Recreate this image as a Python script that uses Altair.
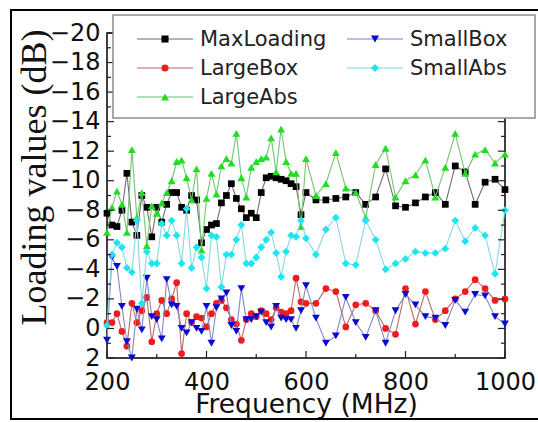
import altair as alt
import pandas as pd

# ---------------- data ----------------
freq = [200, 210, 220, 230, 240, 250, 260, 270, 280, 290,
        300, 310, 320, 330, 340, 350, 360, 370, 380, 390,
        400, 410, 420, 430, 440, 450, 460, 470, 480, 490,
        500, 510, 520, 530, 540, 550, 560, 570, 580, 590,
        600, 620, 640, 660, 680, 700, 720, 740, 760, 780,
        800, 820, 840, 860, 880, 900, 920, 940, 960, 980, 1000]

max_loading = [-7.8, -7.0, -6.9, -8.0, -10.5, -7.2, -6.3, -9.0, -8.2, -6.2,
               -8.2, -7.2, -8.4, -9.2, -9.2, -8.2, -8.0, -9.0, -8.7, -5.8,
               -6.7, -7.0, -7.1, -8.5, -9.0, -9.8, -8.8, -8.1, -7.5, -7.8,
               -7.5, -9.2, -10.2, -10.3, -10.2, -10.1, -10.0, -9.8, -9.6, -7.7,
               -9.2, -8.7, -8.7, -8.8, -8.9, -9.2, -8.4, -8.9, -10.8, -8.3,
               -8.2, -8.5, -8.9, -9.2, -8.4, -11.0, -10.6, -8.4, -9.9, -10.1, -9.4]

large_box = [-0.4, -0.4, -1.0, 0.2, 1.2, -1.7, -0.4, -1.2, -2.1, 0.9,
             -1.0, -1.9, -1.0, -2.0, -3.1, 1.7, -1.0, -0.4, -0.8, -0.7,
             -0.1, -1.0, -1.7, -1.9, -1.4, -0.6, -0.3, 0.8, -0.6, -1.0,
             -0.8, -1.2, -1.0, -0.6, -1.4, -1.1, -1.0, -1.2, -3.4, -1.8,
             -1.7, -1.7, -2.7, -2.5, -0.1, -1.6, -1.7, -1.2, 0.0, 0.4,
             -2.7, -0.3, -2.5, -0.6, -1.2, -2.0, -2.5, -3.3, -2.7, -1.9, -2.0]

large_abs = [-6.5, -8.2, -9.3, -8.4, -6.5, -12.1, -7.5, -9.2, -5.6, -8.3,
             -7.8, -8.5, -9.2, -10.0, -11.3, -11.4, -10.2, -8.7, -10.8, -5.3,
             -8.8, -10.5, -9.1, -11.0, -11.5, -11.2, -13.2, -10.2, -8.9, -10.9,
             -11.3, -11.5, -11.6, -12.9, -10.6, -13.5, -11.3, -10.5, -10.5, -6.9,
             -11.5, -9.0, -9.8, -11.9, -9.5, -9.2, -7.5, -11.1, -12.2, -8.9,
             -10.0, -10.4, -11.4, -8.9, -10.9, -13.2, -10.5, -11.8, -12.1, -11.2, -11.8]

small_box = [0.8, -4.8, -4.2, -1.5, 0.9, 2.0, -1.3, 0.1, -3.4, -0.8,
             -0.6, 0.7, -3.3, -1.6, -1.5, 0.0, 0.3, -0.4, 0.0, 0.2,
             -1.5, 1.0, -1.4, -2.0, -2.4, -0.2, 0.2, -2.7, -0.6, -0.6,
             -0.8, -1.1, -0.4, -0.1, -1.5, -0.7, -0.6, -0.6, 0.0, -1.2,
             -2.9, -0.7, 1.0, 0.5, -2.1, -0.4, 0.6, -1.2, 1.0, -1.2,
             -2.3, -1.6, -0.8, -0.7, -0.2, -1.9, -1.1, -2.3, -2.2, -0.8, -0.3]

small_abs = [-0.2, -5.0, -5.8, -5.5, -4.1, -3.8, -7.3, -1.7, -5.2, -4.4,
             -4.4, -7.1, -6.3, -7.3, -6.3, -4.4, -8.1, -4.1, -5.5, -4.8,
             -2.7, -6.3, -6.2, -2.8, -5.0, -5.0, -6.0, -7.0, -4.4, -4.4,
             -4.8, -5.5, -6.0, -6.5, -5.1, -3.5, -5.2, -6.3, -6.2, -7.3,
             -6.1, -5.0, -6.7, -7.5, -4.4, -4.3, -7.3, -6.0, -4.0, -4.4,
             -4.7, -5.2, -5.1, -5.1, -5.4, -7.3, -5.9, -6.8, -6.3, -3.7, -8.0]

names = ["MaxLoading", "LargeBox", "LargeAbs", "SmallBox", "SmallAbs"]
values = [max_loading, large_box, large_abs, small_box, small_abs]

x_labels = [200, 400, 600, 800, 1000]
y_labels = [-20, -18, -16, -14, -12, -10, -8, -6, -4, -2, 0, 2]
x_minor = [300, 500, 700, 900]
y_minor = [-19, -17, -15, -13, -11, -9, -7, -5, -3, -1, 1]

# ---------------- styles ----------------
marker_colors = ["#000000", "#ee1c1c", "#1ee01e", "#0a0ad0", "#1ee6f0"]
line_colors = ["#6e6e6e", "#b86a6a", "#72c472", "#8585c4", "#84d8e2"]
legend_line_colors = ["#9a9a9a", "#d59a9a", "#9ad69a", "#a8a8d8", "#a6e4ea"]
shapes = ["square", "circle", "triangle-up", "triangle-down", "diamond"]
sizes = [45, 45, 62, 62, 62]

FONT = "DejaVu Sans"
SERIF = "Liberation Serif"
W, H = 398, 325

x_scale = alt.Scale(domain=[200, 1000], nice=False, zero=False)
y_scale = alt.Scale(domain=[-20, 2], reverse=True, nice=False, zero=False)

x_axis = alt.Axis(values=x_labels, format="d", title="Frequency (MHz)", grid=False,
                  domain=False, ticks=False, tickSize=0, labelFont=FONT, labelFontSize=24,
                  labelColor="#111111", labelPadding=31, labelBaseline="alphabetic",
                  labelFlush=False, labelOverlap=False,
                  titleFont=FONT, titleFontSize=26.5, titleFontWeight="normal",
                  titleColor="#111111", titleX=W / 2, titleY=54,
                  titleBaseline="alphabetic", titleAlign="center")
y_axis = alt.Axis(values=y_labels, format="d", title="Loading values (dB)", grid=False,
                  domain=False, ticks=False, tickSize=0, labelFont=FONT, labelFontSize=24,
                  labelColor="#111111", labelPadding=7, labelFlush=False,
                  labelOverlap=False,
                  titleFont=SERIF, titleFontSize=36, titleFontWeight="normal",
                  titleColor="#111111", titleAngle=270, titleX=-62, titleY=144,
                  titleBaseline="alphabetic", titleAlign="center")

layers = []

# data series: line + markers
for i, name in enumerate(names):
    df = pd.DataFrame({"freq": freq, "value": values[i], "series": name})
    enc = dict(x=alt.X("freq:Q", scale=x_scale, axis=x_axis),
               y=alt.Y("value:Q", scale=y_scale, axis=y_axis))
    layers.append(alt.Chart(df).mark_line(color=line_colors[i], strokeWidth=1.1).encode(**enc))
    layers.append(alt.Chart(df).mark_point(shape=shapes[i], filled=True, size=sizes[i],
                                           color=marker_colors[i], opacity=1).encode(**enc))

# inward ticks (left, right, bottom)
ymaj = pd.DataFrame({"v": y_labels})
ymin = pd.DataFrame({"v": y_minor})
xmaj = pd.DataFrame({"v": x_labels})
xmin = pd.DataFrame({"v": x_minor})
for d, ln in ((ymaj, 7), (ymin, 4)):
    yenc = alt.Y("v:Q", scale=y_scale, axis=y_axis)
    layers.append(alt.Chart(d).mark_rule(color="#222222", strokeWidth=1.2).encode(
        y=yenc, x=alt.value(0), x2=alt.value(ln)))
    layers.append(alt.Chart(d).mark_rule(color="#222222", strokeWidth=1.2).encode(
        y=yenc, x=alt.value(W), x2=alt.value(W - ln)))
for d, ln in ((xmaj, 7), (xmin, 4)):
    layers.append(alt.Chart(d).mark_rule(color="#222222", strokeWidth=1.2).encode(
        x=alt.X("v:Q", scale=x_scale, axis=x_axis), y=alt.value(H), y2=alt.value(H - ln)))

# legend box
one = pd.DataFrame({"k": [0]})
layers.append(alt.Chart(one).mark_rect(fill="white", stroke="#8c8c8c", strokeWidth=1.5).encode(
    x=alt.value(6), x2=alt.value(428), y=alt.value(-18), y2=alt.value(85)))

# legend entries: 3 rows in first column, 2 in second
col_x = [30, 240]
row_y = [6, 35, 64]
for i, name in enumerate(names):
    cx = col_x[i // 3]
    ry = row_y[i % 3]
    d = pd.DataFrame({"series": [name]})
    layers.append(alt.Chart(d).mark_rule(color=legend_line_colors[i], strokeWidth=1.3).encode(
        x=alt.value(cx), x2=alt.value(cx + 56), y=alt.value(ry)))
    layers.append(alt.Chart(d).mark_point(shape=shapes[i], filled=True, size=sizes[i] + 5,
                                          color=marker_colors[i], opacity=1).encode(
        x=alt.value(cx + 28), y=alt.value(ry)))
    layers.append(alt.Chart(d).mark_text(font=FONT, fontSize=21, align="left",
                                         baseline="middle", color="#222222").encode(
        x=alt.value(cx + 63), y=alt.value(ry + 1), text="series:N"))

# outer frame of the figure
layers.append(alt.Chart(one).mark_rect(fillOpacity=0, stroke="black", strokeWidth=2).encode(
    x=alt.value(-96), x2=alt.value(445), y=alt.value(-23), y2=alt.value(386)))

chart = alt.layer(*layers).properties(
    width=W, height=H,
    autosize=alt.AutoSizeParams(type="none"),
    padding={"left": 107, "top": 33, "right": 33, "bottom": 64},
    background="white",
).configure_view(stroke="black", strokeWidth=1.5)

chart.save("out.html", embed_options={"renderer": "svg", "actions": False})
